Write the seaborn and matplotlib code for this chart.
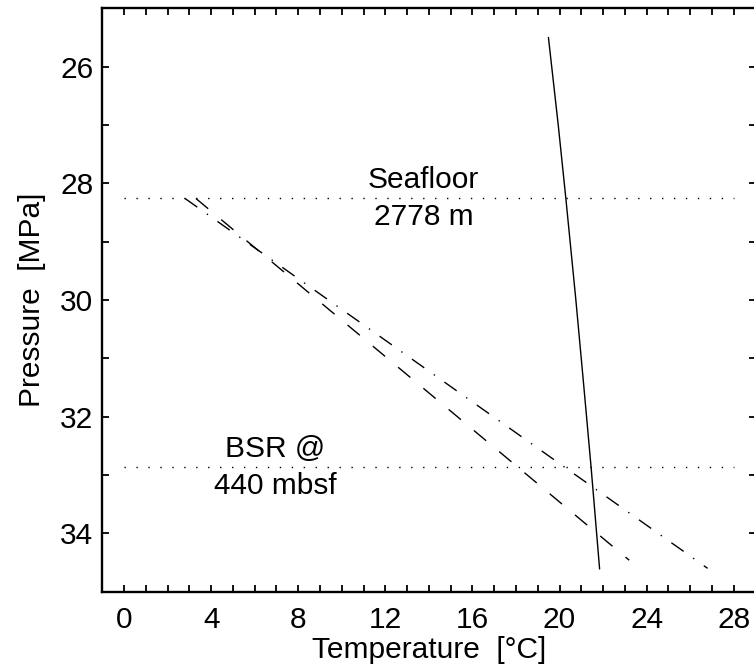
import numpy as np
import pandas as pd
import matplotlib
matplotlib.use("Agg")
import matplotlib.pyplot as plt
import seaborn as sns

# Hydrate stability boundary (temperature vs. pressure)
stab_P = [25.5, 27.0, 28.26, 30.0, 31.5, 32.87, 34.61]
stab_T = [19.49, 19.94, 20.29, 20.75, 21.12, 21.45, 21.84]

# Geotherms starting at the seafloor
geo1_P = [28.26, 32.87, 34.46]
geo1_T = [3.3, 18.1, 23.2]
geo2_P = [28.26, 32.87, 34.60]
geo2_T = [2.8, 20.25, 26.8]

# Reference levels
seafloor_P = 28.26
bsr_P = 32.87
level_T = [0, 28]

seafloor_label = "Seafloor\n2778 m"
bsr_label = "BSR @\n440 mbsf"
x_label = "Temperature  [°C]"
y_label = "Pressure  [MPa]"

x_ticks = list(range(0, 29))
y_ticks = list(range(25, 36))

FS = 21.5

sns.set_style("ticks")
plt.rcParams["font.family"] = ["Liberation Sans", "DejaVu Sans"]
plt.rcParams["font.size"] = FS
plt.rcParams["text.color"] = "black"
plt.rcParams["axes.labelcolor"] = "black"
plt.rcParams["xtick.color"] = "black"
plt.rcParams["ytick.color"] = "black"

fig = plt.figure(figsize=(7.54, 6.71), dpi=100)
ax = fig.add_axes([102.3 / 754, 1 - 591.7 / 671, (755.5 - 102.3) / 754, (591.7 - 8.3) / 671])

stab = pd.DataFrame({"T": stab_T, "P": stab_P})
g1 = pd.DataFrame({"T": geo1_T, "P": geo1_P})
g2 = pd.DataFrame({"T": geo2_T, "P": geo2_P})
sf = pd.DataFrame({"T": level_T, "P": [seafloor_P] * 2})
bs = pd.DataFrame({"T": level_T, "P": [bsr_P] * 2})

sns.lineplot(data=stab, x="T", y="P", sort=False, ax=ax, color="black", lw=1.0)
sns.lineplot(data=g1, x="T", y="P", sort=False, ax=ax, color="black", lw=1.0,
             linestyle=(0, (11.5, 12.2)))
sns.lineplot(data=g2, x="T", y="P", sort=False, ax=ax, color="black", lw=1.0,
             linestyle=(0, (10.8, 8.4, 1.0, 8.4)))
sns.lineplot(data=sf, x="T", y="P", sort=False, ax=ax, color="black", lw=1.0,
             linestyle=(0, (1.0, 7.6)))
sns.lineplot(data=bs, x="T", y="P", sort=False, ax=ax, color="black", lw=1.0,
             linestyle=(0, (1.0, 7.6)))

ax.text(13.75, seafloor_P, seafloor_label, ha="center", va="center",
        multialignment="center", fontsize=FS, linespacing=1.4, color="black")
ax.text(6.95, bsr_P, bsr_label, ha="center", va="center",
        multialignment="center", fontsize=FS, linespacing=1.4, color="black")

ax.set_xlim(-1, 29)
ax.set_ylim(35, 25)

ax.set_xticks(x_ticks)
ax.set_xticklabels([str(t) if t % 4 == 0 else "" for t in x_ticks])
ax.set_yticks(y_ticks)
ax.set_yticklabels([str(t) if t % 2 == 0 else "" for t in y_ticks])

ax.tick_params(axis="both", which="major", direction="in", length=5, width=1.3,
               top=True, right=True, labelsize=FS, color="black", labelcolor="black")
ax.tick_params(axis="x", pad=10)
ax.tick_params(axis="y", pad=6.5)

for s in ax.spines.values():
    s.set_visible(True)
    s.set_linewidth(1.7)
    s.set_color("black")

ax.set_xlabel(x_label, fontsize=FS, labelpad=2, color="black")
ax.set_ylabel(y_label, fontsize=FS, labelpad=10, color="black")
ax.set_facecolor("white")
fig.patch.set_facecolor("white")

fig.savefig("out.png", dpi=100)
